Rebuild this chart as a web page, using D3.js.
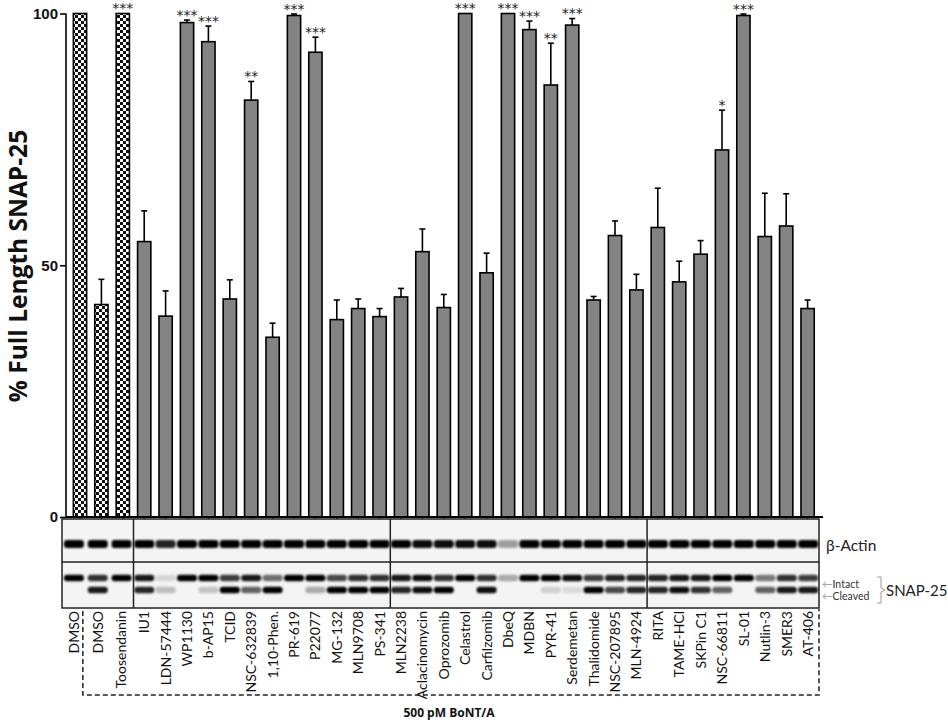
<!DOCTYPE html>
<html>
<head>
<meta charset="utf-8">
<script src="https://cdn.jsdelivr.net/npm/d3@7"></script>
<style>
  body { margin: 0; background: #fff; }
  svg { display: block; }
</style>
</head>
<body>
<div id="container"></div>
<script>
// drug treatments, in the order of the lanes
var categories = ["DMSO", "DMSO", "Toosendanin",
  "IU1", "LDN-57444", "WP1130", "b-AP15", "TCID", "NSC-632839", "1,10-Phen.",
  "PR-619", "P22077", "MG-132", "MLN9708", "PS-341",
  "MLN2238", "Aclacinomycin", "Oprozomib", "Celastrol", "Carfilzomib", "DbeQ",
  "MDBN", "PYR-41", "Serdemetan", "Thalidomide", "NSC-207895", "MLN-4924",
  "RITA", "TAME-HCl", "SKPin C1", "NSC-66811", "SL-01", "Nutlin-3", "SMER3", "AT-406"];

// % full length SNAP-25 (mean) and error (upper bar)
var meanValues = [100, 42.2, 100,
  54.7, 39.9, 98.2, 94.4, 43.3, 82.8, 35.7, 99.6, 92.3, 39.2, 41.4, 39.8,
  43.7, 52.7, 41.6, 100, 48.5, 100, 96.8, 85.8, 97.7, 43.1, 55.9, 45.1,
  57.5, 46.7, 52.2, 72.9, 99.6, 55.7, 57.8, 41.4];
var errValues = [0, 5.0, 0,
  6.1, 5.0, 0.5, 3.1, 3.8, 3.7, 2.8, 0.3, 3.0, 3.9, 1.9, 1.6,
  1.7, 4.5, 2.6, 0, 3.9, 0, 1.7, 8.3, 1.3, 0.7, 2.9, 3.1,
  7.8, 4.1, 2.7, 7.9, 0.3, 8.6, 6.4, 1.7];
var stars = ["", "", "***",
  "", "", "***", "***", "", "**", "", "***", "***", "", "", "",
  "", "", "", "***", "", "***", "***", "**", "***", "", "", "",
  "", "", "", "*", "***", "", "", ""];

// lanes per blot panel (first panel = controls)
var panelSizes = [3, 12, 12, 8];

// band intensities read off the western blot (0 = no band, 1 = full)
var actinBand = [1, 1, 1,
  1, 0.85, 1, 1, 1, 1, 1, 1, 1, 1, 1, 1,
  1, 0.95, 0.95, 0.95, 0.95, 0.35, 1, 1, 1, 1, 1, 1,
  1, 1, 1, 1, 1, 1, 1, 1];
var intactBand = [1, 0.8, 1,
  0.9, 0.12, 1, 1, 0.75, 0.9, 0.55, 1, 1, 0.7, 0.8, 0.8,
  0.9, 0.95, 0.8, 1, 0.8, 0.3, 1, 1, 0.95, 0.75, 0.85, 0.85,
  0.85, 0.9, 0.9, 1, 1, 0.5, 0.8, 0.75];
var cleavedBand = [0, 0.9, 0,
  0.85, 0.22, 0, 0.2, 1, 0.6, 1, 0, 0.3, 1, 1, 1,
  0.85, 0.95, 1, 0, 0.95, 0, 0, 0.15, 0.1, 1, 0.7, 0.85,
  0.85, 0.95, 0.8, 0.6, 0, 0.6, 0.9, 0.9];

var yTicks = [0, 50, 100];

var W = 948, H = 723;
var svg = d3.select("#container").append("svg")
  .attr("width", W).attr("height", H);

var defs = svg.append("defs");
var pat = defs.append("pattern")
  .attr("id", "checker")
  .attr("patternUnits", "userSpaceOnUse")
  .attr("width", 6).attr("height", 6);
pat.append("rect").attr("width", 6).attr("height", 6).attr("fill", "#fff");
pat.append("rect").attr("width", 3).attr("height", 3).attr("fill", "#111");
pat.append("rect").attr("x", 3).attr("y", 3).attr("width", 3).attr("height", 3).attr("fill", "#111");

defs.append("filter").attr("id", "blur")
  .attr("x", "-30%").attr("y", "-80%").attr("width", "160%").attr("height", "260%")
  .append("feGaussianBlur").attr("stdDeviation", 1.1);

// scales
var x = d3.scaleBand()
  .domain(d3.range(categories.length))
  .range([69.3, 818.3])
  .paddingInner(0.38)
  .paddingOuter(0.19);

var y = d3.scaleLinear().domain([0, 100]).range([517, 13.5]);

var axisLeft = 66, axisRight = 823;

// bars
var bars = svg.append("g");
bars.selectAll("rect")
  .data(meanValues)
  .enter().append("rect")
  .attr("x", function(d, i){ return x(i); })
  .attr("y", function(d){ return y(d); })
  .attr("width", x.bandwidth())
  .attr("height", function(d){ return y(0) - y(d); })
  .attr("fill", function(d, i){ return i < panelSizes[0] ? "url(#checker)" : "#838383"; })
  .style("stroke", "#000")
  .style("stroke-width", 1.6);

// error bars
var err = svg.append("g").style("stroke", "#000").style("stroke-width", 1.6);
meanValues.forEach(function(d, i){
  if (errValues[i] <= 0) return;
  var cx = x(i) + x.bandwidth() / 2;
  err.append("line")
    .attr("x1", cx).attr("x2", cx)
    .attr("y1", y(d)).attr("y2", y(d + errValues[i]));
  err.append("line")
    .attr("x1", cx - 3).attr("x2", cx + 3)
    .attr("y1", y(d + errValues[i])).attr("y2", y(d + errValues[i]));
});

// significance stars
svg.append("g").selectAll("text")
  .data(stars)
  .enter().append("text")
  .attr("x", function(d, i){ return x(i) + x.bandwidth() / 2; })
  .attr("y", function(d, i){ return y(meanValues[i] + errValues[i]) - 0.5; })
  .attr("text-anchor", "middle")
  .style("font-family", "DejaVu Sans")
  .style("font-size", "14px")
  .style("fill", "#222")
  .text(function(d){ return d; });

// y axis
var yAxis = d3.axisLeft(y).tickValues(yTicks).tickSize(6).tickPadding(2);
var gy = svg.append("g").attr("transform", "translate(" + axisLeft + ",0)").call(yAxis);
gy.select(".domain").attr("d", "M0," + y(100) + "V" + y(0)).style("stroke-width", 1.6);
gy.selectAll(".tick line").style("stroke-width", 1.6);
gy.selectAll("text")
  .style("font-family", "Liberation Sans")
  .style("font-weight", "bold")
  .style("font-size", "15px")
  .style("fill", "#111");

// x axis line with small ticks
svg.append("line")
  .attr("x1", axisLeft).attr("x2", axisRight)
  .attr("y1", y(0)).attr("y2", y(0))
  .style("stroke", "#000").style("stroke-width", 1.8);
svg.append("g").selectAll("line")
  .data(meanValues)
  .enter().append("line")
  .attr("x1", function(d, i){ return x(i) + x.bandwidth() / 2; })
  .attr("x2", function(d, i){ return x(i) + x.bandwidth() / 2; })
  .attr("y1", y(0)).attr("y2", y(0) + 3)
  .style("stroke", "#000").style("stroke-width", 1.2);

// y title
svg.append("text")
  .attr("transform", "translate(27,266) rotate(-90)")
  .attr("text-anchor", "middle")
  .style("font-family", "Open Sans")
  .style("font-weight", "bold")
  .style("font-size", "24.5px")
  .style("fill", "#111")
  .text("% Full Length SNAP-25");

// ---------- western blot panels ----------
var blotLeft = 62, blotRight = 819;
var rowTop = 519, rowMid = 562, rowBot = 608;

// panel edges: halfway between the last lane of one panel and first of the next
var edges = [blotLeft];
var acc = 0;
panelSizes.forEach(function(n, p){
  acc += n;
  if (p < panelSizes.length - 1) {
    edges.push((x(acc - 1) + x(acc) + x.bandwidth()) / 2);
  }
});
edges.push(blotRight);

// lane centres spread evenly inside each panel
var laneX = [];
panelSizes.forEach(function(n, p){
  var lane = d3.scalePoint().domain(d3.range(n)).range([edges[p], edges[p + 1]]).padding(0.5);
  for (var k = 0; k < n; k++) laneX.push(lane(k));
});

var blot = svg.append("g");
blot.append("rect")
  .attr("x", blotLeft).attr("y", rowTop)
  .attr("width", blotRight - blotLeft).attr("height", rowBot - rowTop)
  .attr("fill", "#f4f4f4");

var bands = blot.append("g").attr("filter", "url(#blur)");
function drawBands(vals, cy, h){
  bands.selectAll(null)
    .data(vals)
    .enter().append("rect")
    .attr("x", function(d, i){ return laneX[i] - 10; })
    .attr("y", cy - h / 2)
    .attr("width", 20)
    .attr("height", h)
    .attr("rx", 3)
    .attr("fill", "#000")
    .attr("opacity", function(d){ return d; });
}
drawBands(actinBand, 544, 8);
drawBands(intactBand, 578, 6.5);
drawBands(cleavedBand, 590, 6.5);

// panel frames
blot.append("rect")
  .attr("x", blotLeft).attr("y", rowTop)
  .attr("width", blotRight - blotLeft).attr("height", rowBot - rowTop)
  .attr("fill", "none").style("stroke", "#222").style("stroke-width", 1.5);
blot.append("line")
  .attr("x1", blotLeft).attr("x2", blotRight)
  .attr("y1", rowMid).attr("y2", rowMid)
  .style("stroke", "#222").style("stroke-width", 1.5);
blot.selectAll(".div")
  .data(edges.slice(1, -1))
  .enter().append("line")
  .attr("x1", function(d){ return d; }).attr("x2", function(d){ return d; })
  .attr("y1", rowTop).attr("y2", rowBot)
  .style("stroke", "#222").style("stroke-width", 1.5);

// blot labels on the right
svg.append("text")
  .attr("x", 826).attr("y", 551)
  .style("font-family", "Lato").style("font-size", "15.5px").style("fill", "#222")
  .text("β-Actin");

var small = svg.append("g")
  .style("font-family", "Lato").style("font-size", "10.5px").style("fill", "#333");
var t1 = small.append("text").attr("x", 822).attr("y", 588);
t1.append("tspan").style("fill", "#999").text("←");
t1.append("tspan").text("Intact");
var t2 = small.append("text").attr("x", 822).attr("y", 600);
t2.append("tspan").style("fill", "#999").text("←");
t2.append("tspan").text("Cleaved");

svg.append("path")
  .attr("d", "M877,577 H881 V588 L885,590 L881,592 V603 H877")
  .attr("fill", "none").style("stroke", "#999").style("stroke-width", 1);
svg.append("text")
  .attr("x", 886).attr("y", 596)
  .style("font-family", "Lato").style("font-size", "15px").style("fill", "#222")
  .text("SNAP-25");

// lane labels
svg.append("g").selectAll("text")
  .data(categories)
  .enter().append("text")
  .attr("transform", function(d, i){ return "translate(" + laneX[i] + "," + (rowBot + 3) + ") rotate(-90)"; })
  .attr("dy", "0.35em")
  .attr("text-anchor", "end")
  .style("font-family", "Lato")
  .style("font-size", "14px")
  .style("fill", "#111")
  .text(function(d){ return d; });

// dashed bracket for the BoNT/A treated lanes
var bx0 = (laneX[0] + laneX[1]) / 2 - 3;
svg.append("path")
  .attr("d", "M" + bx0 + "," + (rowBot + 3) + " V695 H" + blotRight + " V" + (rowBot + 1))
  .attr("fill", "none")
  .style("stroke", "#222").style("stroke-width", 1.5)
  .style("stroke-dasharray", "5,3");

svg.append("text")
  .attr("x", 449).attr("y", 717)
  .attr("text-anchor", "middle")
  .style("font-family", "Open Sans").style("font-weight", "bold")
  .style("font-size", "12px").style("fill", "#111")
  .text("500 pM BoNT/A");
</script>
</body>
</html>
